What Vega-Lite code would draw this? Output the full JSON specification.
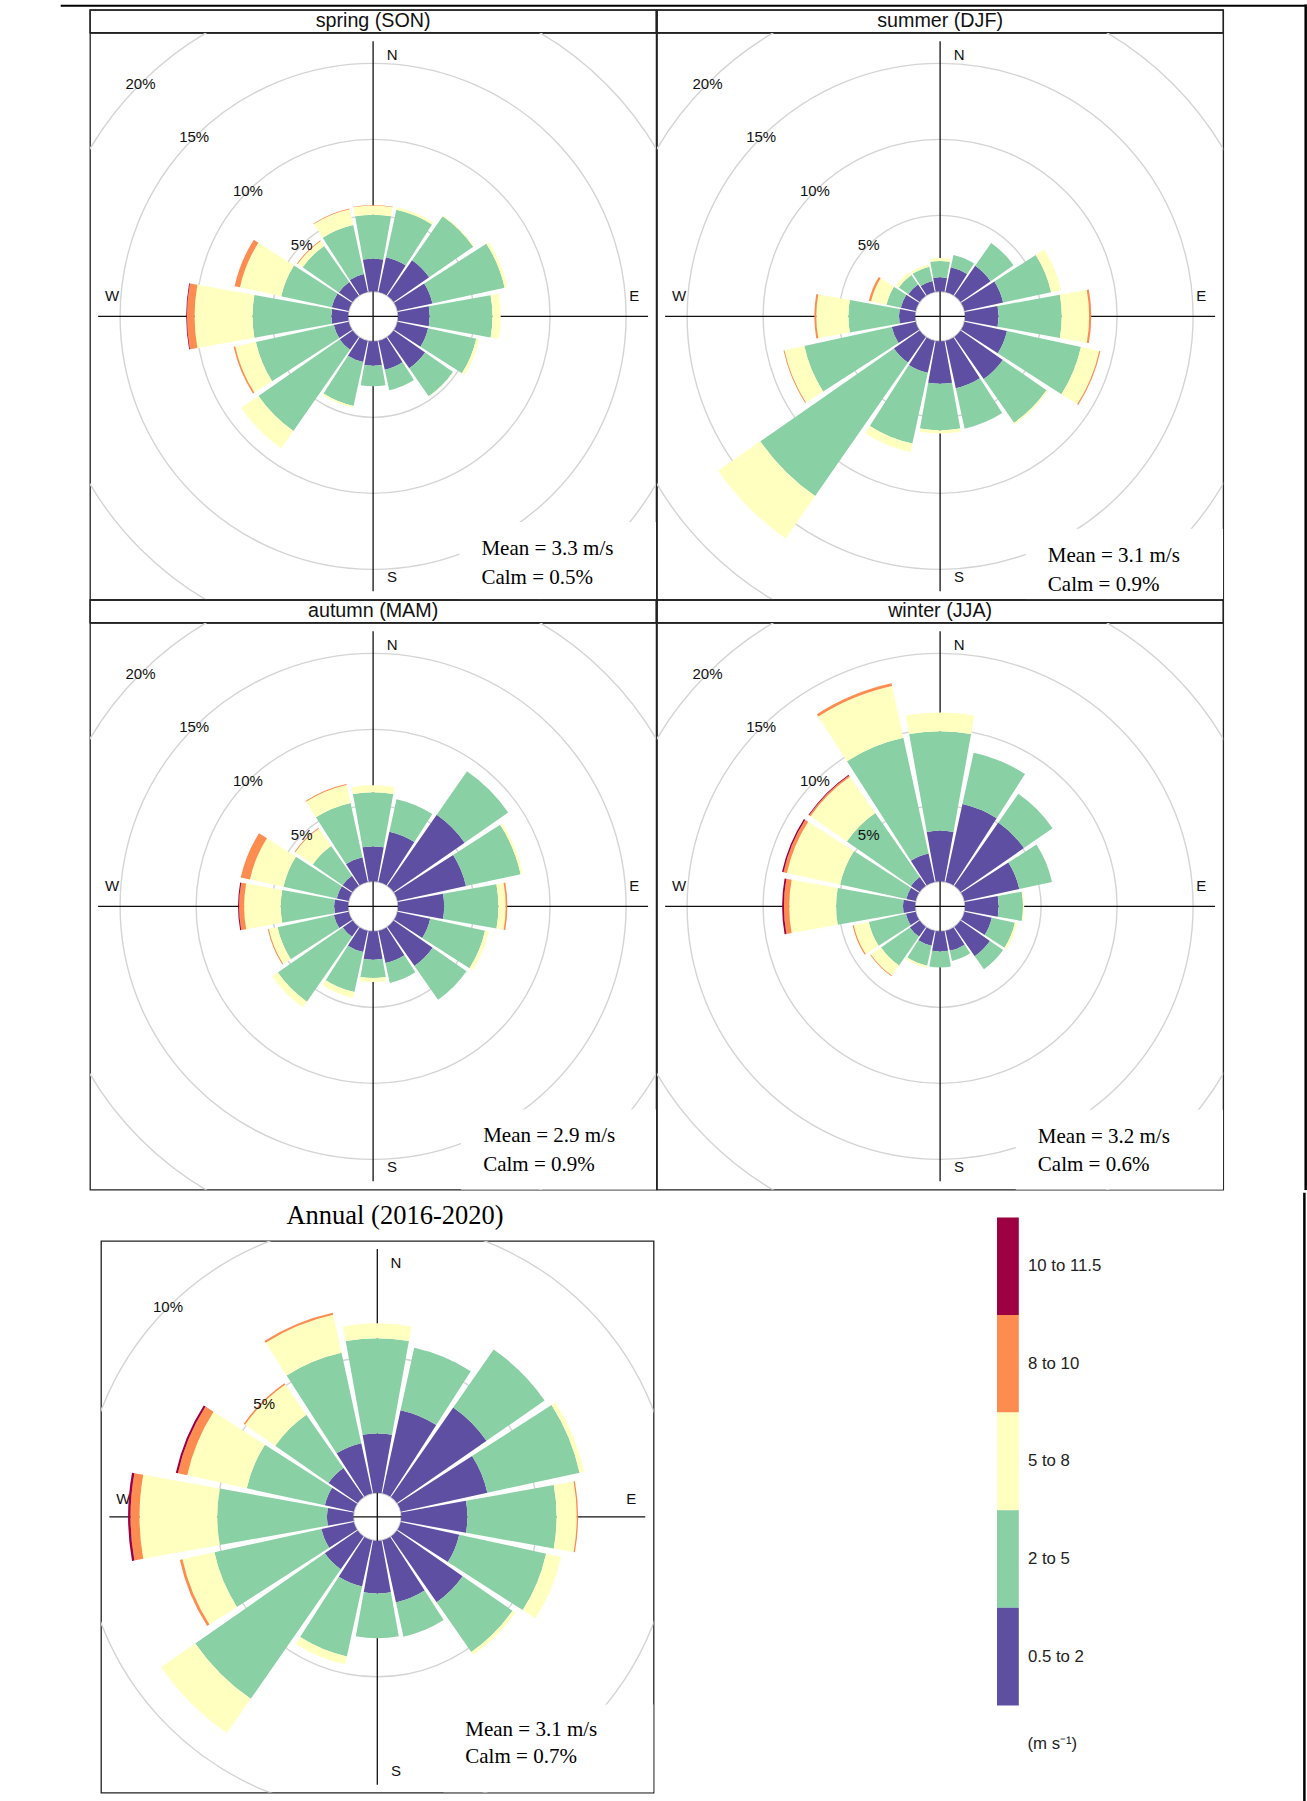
{
"$schema": "https://vega.github.io/schema/vega-lite/v6.json",
"padding": {"left": 59, "top": 3, "right": 0, "bottom": 0},
"background": "white",
"config": {"view": {"stroke": "#222", "strokeWidth": 1.3}},
"datasets": {
"rings": [{"ring":5,"lab":"5%"},{"ring":10,"lab":"10%"},{"ring":15,"lab":"15%"},{"ring":20,"lab":"20%"}],
"compass": [{"c":"N","a":0},{"c":"E","a":90},{"c":"S","a":180},{"c":"W","a":270}],
"bands": [{"w":10,"b":"10 to 11.5"},{"w":8,"b":"8 to 10"},{"w":5,"b":"5 to 8"},{"w":2,"b":"2 to 5"},{"w":0.5,"b":"0.5 to 2"}],
"unit": [{"u":"(m s⁻¹)"}],
"stats": [
{"s":"spring","t":"spring (SON)","mean":"Mean = 3.3 m/s","calm":"Calm = 0.5%"},
{"s":"summer","t":"summer (DJF)","mean":"Mean = 3.1 m/s","calm":"Calm = 0.9%"},
{"s":"autumn","t":"autumn (MAM)","mean":"Mean = 2.9 m/s","calm":"Calm = 0.9%"},
{"s":"winter","t":"winter (JJA)","mean":"Mean = 3.2 m/s","calm":"Calm = 0.6%"},
{"s":"annual","t":"Annual (2016-2020)","mean":"Mean = 3.1 m/s","calm":"Calm = 0.7%"}],
"wind": [
{"s":"spring","d":0,"w":0.5,"p":2.15},{"s":"spring","d":0,"w":2,"p":2.89},{"s":"spring","d":0,"w":5,"p":0.6},{"s":"spring","d":0,"w":8,"p":0.04},
{"s":"spring","d":22.5,"w":0.5,"p":2.33},{"s":"spring","d":22.5,"w":2,"p":3.2},{"s":"spring","d":22.5,"w":5,"p":0.17},
{"s":"spring","d":45,"w":0.5,"p":2.85},{"s":"spring","d":45,"w":2,"p":3.53},{"s":"spring","d":45,"w":5,"p":0.07},
{"s":"spring","d":67.5,"w":0.5,"p":2.35},{"s":"spring","d":67.5,"w":2,"p":4.86},{"s":"spring","d":67.5,"w":5,"p":0.19},
{"s":"spring","d":90,"w":0.5,"p":2.08},{"s":"spring","d":90,"w":2,"p":4.13},{"s":"spring","d":90,"w":5,"p":0.54},
{"s":"spring","d":112.5,"w":0.5,"p":2.06},{"s":"spring","d":112.5,"w":2,"p":3.24},{"s":"spring","d":112.5,"w":5,"p":0.2},
{"s":"spring","d":135,"w":0.5,"p":2.52},{"s":"spring","d":135,"w":2,"p":2.24},{"s":"spring","d":135,"w":5,"p":0.03},
{"s":"spring","d":157.5,"w":0.5,"p":1.95},{"s":"spring","d":157.5,"w":2,"p":1.38},
{"s":"spring","d":180,"w":0.5,"p":1.6},{"s":"spring","d":180,"w":2,"p":1.36},
{"s":"spring","d":202.5,"w":0.5,"p":1.43},{"s":"spring","d":202.5,"w":2,"p":2.96},{"s":"spring","d":202.5,"w":5,"p":0.11},
{"s":"spring","d":225,"w":0.5,"p":1.03},{"s":"spring","d":225,"w":2,"p":6.51},{"s":"spring","d":225,"w":5,"p":1.39},
{"s":"spring","d":247.5,"w":0.5,"p":1.0},{"s":"spring","d":247.5,"w":2,"p":5.25},{"s":"spring","d":247.5,"w":5,"p":1.39},{"s":"spring","d":247.5,"w":8,"p":0.11},
{"s":"spring","d":270,"w":0.5,"p":1.1},{"s":"spring","d":270,"w":2,"p":5.19},{"s":"spring","d":270,"w":5,"p":3.81},{"s":"spring","d":270,"w":8,"p":0.5},{"s":"spring","d":270,"w":10,"p":0.05},
{"s":"spring","d":292.5,"w":0.5,"p":1.14},{"s":"spring","d":292.5,"w":2,"p":3.4},{"s":"spring","d":292.5,"w":5,"p":2.78},{"s":"spring","d":292.5,"w":8,"p":0.36},
{"s":"spring","d":315,"w":0.5,"p":1.1},{"s":"spring","d":315,"w":2,"p":2.9},{"s":"spring","d":315,"w":5,"p":0.39},{"s":"spring","d":315,"w":8,"p":0.06},
{"s":"spring","d":337.5,"w":0.5,"p":1.2},{"s":"spring","d":337.5,"w":2,"p":3.3},{"s":"spring","d":337.5,"w":5,"p":1.07},{"s":"spring","d":337.5,"w":8,"p":0.05},

{"s":"summer","d":0,"w":0.5,"p":0.92},{"s":"summer","d":0,"w":2,"p":1.08},{"s":"summer","d":0,"w":5,"p":0.2},
{"s":"summer","d":22.5,"w":0.5,"p":1.66},{"s":"summer","d":22.5,"w":2,"p":0.83},
{"s":"summer","d":45,"w":0.5,"p":2.4},{"s":"summer","d":45,"w":2,"p":1.84},
{"s":"summer","d":67.5,"w":0.5,"p":2.6},{"s":"summer","d":67.5,"w":2,"p":3.23},{"s":"summer","d":67.5,"w":5,"p":0.67},
{"s":"summer","d":90,"w":0.5,"p":2.2},{"s":"summer","d":90,"w":2,"p":4.16},{"s":"summer","d":90,"w":5,"p":1.8},{"s":"summer","d":90,"w":8,"p":0.14},
{"s":"summer","d":112.5,"w":0.5,"p":2.86},{"s":"summer","d":112.5,"w":2,"p":4.98},{"s":"summer","d":112.5,"w":5,"p":1.23},{"s":"summer","d":112.5,"w":8,"p":0.08},
{"s":"summer","d":135,"w":0.5,"p":3.38},{"s":"summer","d":135,"w":2,"p":3.5},{"s":"summer","d":135,"w":5,"p":0.12},
{"s":"summer","d":157.5,"w":0.5,"p":3.2},{"s":"summer","d":157.5,"w":2,"p":2.72},
{"s":"summer","d":180,"w":0.5,"p":2.79},{"s":"summer","d":180,"w":2,"p":3.07},{"s":"summer","d":180,"w":5,"p":0.2},
{"s":"summer","d":202.5,"w":0.5,"p":2.16},{"s":"summer","d":202.5,"w":2,"p":4.76},{"s":"summer","d":202.5,"w":5,"p":0.58},
{"s":"summer","d":225,"w":0.5,"p":2.06},{"s":"summer","d":225,"w":2,"p":10.7},{"s":"summer","d":225,"w":5,"p":3.39},
{"s":"summer","d":247.5,"w":0.5,"p":1.61},{"s":"summer","d":247.5,"w":2,"p":5.89},{"s":"summer","d":247.5,"w":5,"p":1.34},{"s":"summer","d":247.5,"w":8,"p":0.06},
{"s":"summer","d":270,"w":0.5,"p":1.06},{"s":"summer","d":270,"w":2,"p":3.33},{"s":"summer","d":270,"w":5,"p":2.11},{"s":"summer","d":270,"w":8,"p":0.13},
{"s":"summer","d":292.5,"w":0.5,"p":1.0},{"s":"summer","d":292.5,"w":2,"p":0.96},{"s":"summer","d":292.5,"w":5,"p":1.04},{"s":"summer","d":292.5,"w":8,"p":0.15},
{"s":"summer","d":315,"w":0.5,"p":0.9},{"s":"summer","d":315,"w":2,"p":0.77},{"s":"summer","d":315,"w":5,"p":0.23},
{"s":"summer","d":337.5,"w":0.5,"p":0.73},{"s":"summer","d":337.5,"w":2,"p":0.97},{"s":"summer","d":337.5,"w":5,"p":0.15},

{"s":"autumn","d":0,"w":0.5,"p":2.3},{"s":"autumn","d":0,"w":2,"p":3.56},{"s":"autumn","d":0,"w":5,"p":0.46},
{"s":"autumn","d":22.5,"w":0.5,"p":3.38},{"s":"autumn","d":22.5,"w":2,"p":2.19},
{"s":"autumn","d":45,"w":0.5,"p":5.69},{"s":"autumn","d":45,"w":2,"p":3.49},
{"s":"autumn","d":67.5,"w":0.5,"p":4.61},{"s":"autumn","d":67.5,"w":2,"p":3.68},{"s":"autumn","d":67.5,"w":5,"p":0.16},
{"s":"autumn","d":90,"w":0.5,"p":3.03},{"s":"autumn","d":90,"w":2,"p":3.57},{"s":"autumn","d":90,"w":5,"p":0.48},{"s":"autumn","d":90,"w":8,"p":0.11},
{"s":"autumn","d":112.5,"w":0.5,"p":2.2},{"s":"autumn","d":112.5,"w":2,"p":3.69},{"s":"autumn","d":112.5,"w":5,"p":0.26},
{"s":"autumn","d":135,"w":0.5,"p":3.13},{"s":"autumn","d":135,"w":2,"p":2.71},
{"s":"autumn","d":157.5,"w":0.5,"p":2.17},{"s":"autumn","d":157.5,"w":2,"p":1.34},
{"s":"autumn","d":180,"w":0.5,"p":1.86},{"s":"autumn","d":180,"w":2,"p":1.21},{"s":"autumn","d":180,"w":5,"p":0.26},
{"s":"autumn","d":202.5,"w":0.5,"p":1.43},{"s":"autumn","d":202.5,"w":2,"p":2.7},{"s":"autumn","d":202.5,"w":5,"p":0.39},
{"s":"autumn","d":225,"w":0.5,"p":0.79},{"s":"autumn","d":225,"w":2,"p":5.2},{"s":"autumn","d":225,"w":5,"p":0.46},
{"s":"autumn","d":247.5,"w":0.5,"p":1.0},{"s":"autumn","d":247.5,"w":2,"p":3.79},{"s":"autumn","d":247.5,"w":5,"p":0.59},{"s":"autumn","d":247.5,"w":8,"p":0.07},
{"s":"autumn","d":270,"w":0.5,"p":0.92},{"s":"autumn","d":270,"w":2,"p":3.51},{"s":"autumn","d":270,"w":5,"p":2.41},{"s":"autumn","d":270,"w":8,"p":0.33},{"s":"autumn","d":270,"w":10,"p":0.07},
{"s":"autumn","d":292.5,"w":0.5,"p":0.8},{"s":"autumn","d":292.5,"w":2,"p":3.59},{"s":"autumn","d":292.5,"w":5,"p":2.26},{"s":"autumn","d":292.5,"w":8,"p":0.62},
{"s":"autumn","d":315,"w":0.5,"p":0.8},{"s":"autumn","d":315,"w":2,"p":2.39},{"s":"autumn","d":315,"w":5,"p":1.4},{"s":"autumn","d":315,"w":8,"p":0.06},
{"s":"autumn","d":337.5,"w":0.5,"p":1.66},{"s":"autumn","d":337.5,"w":2,"p":3.66},{"s":"autumn","d":337.5,"w":5,"p":1.21},{"s":"autumn","d":337.5,"w":8,"p":0.07},

{"s":"winter","d":0,"w":0.5,"p":3.33},{"s":"winter","d":0,"w":2,"p":6.54},{"s":"winter","d":0,"w":5,"p":1.24},
{"s":"winter","d":22.5,"w":0.5,"p":5.25},{"s":"winter","d":22.5,"w":2,"p":3.45},
{"s":"winter","d":45,"w":0.5,"p":5.07},{"s":"winter","d":45,"w":2,"p":2.3},
{"s":"winter","d":67.5,"w":0.5,"p":3.69},{"s":"winter","d":67.5,"w":2,"p":2.2},
{"s":"winter","d":90,"w":0.5,"p":2.21},{"s":"winter","d":90,"w":2,"p":1.6},{"s":"winter","d":90,"w":5,"p":0.08},
{"s":"winter","d":112.5,"w":0.5,"p":1.84},{"s":"winter","d":112.5,"w":2,"p":1.55},{"s":"winter","d":112.5,"w":5,"p":0.16},
{"s":"winter","d":135,"w":0.5,"p":2.35},{"s":"winter","d":135,"w":2,"p":1.05},
{"s":"winter","d":157.5,"w":0.5,"p":1.35},{"s":"winter","d":157.5,"w":2,"p":0.68},
{"s":"winter","d":180,"w":0.5,"p":1.32},{"s":"winter","d":180,"w":2,"p":1.05},
{"s":"winter","d":202.5,"w":0.5,"p":1.01},{"s":"winter","d":202.5,"w":2,"p":1.34},{"s":"winter","d":202.5,"w":5,"p":0.15},
{"s":"winter","d":225,"w":0.5,"p":0.78},{"s":"winter","d":225,"w":2,"p":2.31},{"s":"winter","d":225,"w":5,"p":0.81},{"s":"winter","d":225,"w":8,"p":0.05},
{"s":"winter","d":247.5,"w":0.5,"p":0.66},{"s":"winter","d":247.5,"w":2,"p":2.5},{"s":"winter","d":247.5,"w":5,"p":1.01},{"s":"winter","d":247.5,"w":8,"p":0.08},
{"s":"winter","d":270,"w":0.5,"p":0.8},{"s":"winter","d":270,"w":2,"p":4.4},{"s":"winter","d":270,"w":5,"p":3.08},{"s":"winter","d":270,"w":8,"p":0.35},{"s":"winter","d":270,"w":10,"p":0.12},
{"s":"winter","d":292.5,"w":0.5,"p":0.63},{"s":"winter","d":292.5,"w":2,"p":4.46},{"s":"winter","d":292.5,"w":5,"p":3.58},{"s":"winter","d":292.5,"w":8,"p":0.23},{"s":"winter","d":292.5,"w":10,"p":0.1},
{"s":"winter","d":315,"w":0.5,"p":0.7},{"s":"winter","d":315,"w":2,"p":5.13},{"s":"winter","d":315,"w":5,"p":2.91},{"s":"winter","d":315,"w":8,"p":0.11},{"s":"winter","d":315,"w":10,"p":0.05},
{"s":"winter","d":337.5,"w":0.5,"p":1.92},{"s":"winter","d":337.5,"w":2,"p":7.78},{"s":"winter","d":337.5,"w":5,"p":3.49},{"s":"winter","d":337.5,"w":8,"p":0.18},

{"s":"annual","d":0,"w":0.5,"p":2.18},{"s":"annual","d":0,"w":2,"p":3.5},{"s":"annual","d":0,"w":5,"p":0.55},
{"s":"annual","d":22.5,"w":0.5,"p":3.13},{"s":"annual","d":22.5,"w":2,"p":2.35},
{"s":"annual","d":45,"w":0.5,"p":4.01},{"s":"annual","d":45,"w":2,"p":2.6},
{"s":"annual","d":67.5,"w":0.5,"p":3.26},{"s":"annual","d":67.5,"w":2,"p":3.47},{"s":"annual","d":67.5,"w":5,"p":0.17},
{"s":"annual","d":90,"w":0.5,"p":2.43},{"s":"annual","d":90,"w":2,"p":3.28},{"s":"annual","d":90,"w":5,"p":0.74},{"s":"annual","d":90,"w":8,"p":0.05},
{"s":"annual","d":112.5,"w":0.5,"p":2.2},{"s":"annual","d":112.5,"w":2,"p":3.27},{"s":"annual","d":112.5,"w":5,"p":0.56},
{"s":"annual","d":135,"w":0.5,"p":2.94},{"s":"annual","d":135,"w":2,"p":2.23},{"s":"annual","d":135,"w":5,"p":0.13},
{"s":"annual","d":157.5,"w":0.5,"p":2.34},{"s":"annual","d":157.5,"w":2,"p":1.29},
{"s":"annual","d":180,"w":0.5,"p":1.94},{"s":"annual","d":180,"w":2,"p":1.64},
{"s":"annual","d":202.5,"w":0.5,"p":1.74},{"s":"annual","d":202.5,"w":2,"p":2.63},{"s":"annual","d":202.5,"w":5,"p":0.3},
{"s":"annual","d":225,"w":0.5,"p":1.47},{"s":"annual","d":225,"w":2,"p":5.8},{"s":"annual","d":225,"w":5,"p":1.53},
{"s":"annual","d":247.5,"w":0.5,"p":1.22},{"s":"annual","d":247.5,"w":2,"p":4.03},{"s":"annual","d":247.5,"w":5,"p":1.2},{"s":"annual","d":247.5,"w":8,"p":0.1},
{"s":"annual","d":270,"w":0.5,"p":0.97},{"s":"annual","d":270,"w":2,"p":4.03},{"s":"annual","d":270,"w":5,"p":2.86},{"s":"annual","d":270,"w":8,"p":0.33},{"s":"annual","d":270,"w":10,"p":0.09},
{"s":"annual","d":292.5,"w":0.5,"p":1.09},{"s":"annual","d":292.5,"w":2,"p":2.94},{"s":"annual","d":292.5,"w":5,"p":2.24},{"s":"annual","d":292.5,"w":8,"p":0.35},{"s":"annual","d":292.5,"w":10,"p":0.08},
{"s":"annual","d":315,"w":0.5,"p":1.3},{"s":"annual","d":315,"w":2,"p":2.39},{"s":"annual","d":315,"w":5,"p":1.35},{"s":"annual","d":315,"w":8,"p":0.06},
{"s":"annual","d":337.5,"w":0.5,"p":1.89},{"s":"annual","d":337.5,"w":2,"p":3.4},{"s":"annual","d":337.5,"w":5,"p":1.43},{"s":"annual","d":337.5,"w":8,"p":0.08}
]
},
"spacing": 0,
"vconcat": [
{"columns": 2, "spacing": 0, "bounds": "flush", "concat": [
 {"width": 566.2, "height": 22.7, "layer": [
  {"data": {"values": [{}]}, "mark": {"type": "rect", "fillOpacity": 0, "stroke": "#222", "strokeWidth": 1.3},
   "encoding": {"x": {"datum": 0, "type": "quantitative", "axis": null, "scale": {"domain": [0, 1], "nice": false, "zero": false}}, "x2": {"datum": 1}, "y": {"datum": 0, "type": "quantitative", "axis": null, "scale": {"domain": [0, 1], "nice": false, "zero": false}}, "y2": {"datum": 1}}},
  {"data": {"values": [{}]}, "mark": {"type": "rule", "color": "#000", "strokeWidth": 2, "strokeCap": "square"},
   "encoding": {"x": {"datum": -0.04998, "type": "quantitative", "axis": null, "scale": {"domain": [0, 1], "nice": false, "zero": false}}, "x2": {"datum": 2.1471}, "y": {"datum": 1.1894, "type": "quantitative", "axis": null, "scale": {"domain": [0, 1], "nice": false, "zero": false}}}},
  {"data": {"values": [{}]}, "mark": {"type": "rule", "color": "#000", "strokeWidth": 2.5, "strokeCap": "square"},
   "encoding": {"x": {"datum": 2.1471, "type": "quantitative", "axis": null, "scale": {"domain": [0, 1], "nice": false, "zero": false}}, "y": {"datum": 1.1894, "type": "quantitative", "axis": null, "scale": {"domain": [0, 1], "nice": false, "zero": false}}, "y2": {"datum": -50.93}}},
  {"data": {"name": "stats"}, "transform": [{"filter": "datum.s=='spring'"}], "mark": {"type": "text", "font": "Liberation Sans", "fontSize": 19.7, "color": "#111"}, "encoding": {"text": {"field": "t"}}}]},
 {"width": 566.2, "height": 22.7, "layer": [
  {"data": {"values": [{}]}, "mark": {"type": "rect", "fillOpacity": 0, "stroke": "#222", "strokeWidth": 1.3},
   "encoding": {"x": {"datum": 0, "type": "quantitative", "axis": null, "scale": {"domain": [0, 1], "nice": false, "zero": false}}, "x2": {"datum": 1}, "y": {"datum": 0, "type": "quantitative", "axis": null, "scale": {"domain": [0, 1], "nice": false, "zero": false}}, "y2": {"datum": 1}}},
  {"data": {"name": "stats"}, "transform": [{"filter": "datum.s=='summer'"}], "mark": {"type": "text", "font": "Liberation Sans", "fontSize": 19.7, "color": "#111"}, "encoding": {"text": {"field": "t"}}}]},
 {"width": 566.2, "height": 566.7, "layer": [
  {"data": {"name": "rings"}, "mark": {"type": "arc", "theta": 0, "theta2": 6.2832, "fill": "white", "fillOpacity": 0, "stroke": "#d4d4d4", "strokeWidth": 1.4, "clip": true},
   "encoding": {"radius": {"field": "ring", "type": "quantitative", "stack": null, "scale": {"type": "linear", "domain": [0, 20], "range": [25, 329], "zero": false, "nice": false}}}},
  {"data": {"values": [{}]}, "mark": {"type": "rule", "color": "#111", "strokeWidth": 1.3},
   "encoding": {"x": {"datum": 0, "type": "quantitative", "axis": null, "scale": {"domain": [-18.625, 18.625], "zero": false, "nice": false}}, "y": {"datum": -18.09, "type": "quantitative", "axis": null, "scale": {"domain": [-18.64, 18.64], "zero": false, "nice": false}}, "y2": {"datum": 18.09}}},
  {"data": {"values": [{}]}, "mark": {"type": "rule", "color": "#111", "strokeWidth": 1.3},
   "encoding": {"y": {"datum": 0, "type": "quantitative", "axis": null, "scale": {"domain": [-18.64, 18.64], "zero": false, "nice": false}}, "x": {"datum": -18.09, "type": "quantitative", "axis": null, "scale": {"domain": [-18.625, 18.625], "zero": false, "nice": false}}, "x2": {"datum": 18.09}}},
  {"data": {"name": "compass"}, "transform": [{"filter": "datum.c=='N'||datum.c=='S'"}], "mark": {"type": "text", "font": "Liberation Sans", "fontSize": 15, "color": "#111", "dx": 19},
   "encoding": {"theta": {"field": "a", "type": "quantitative", "stack": null, "scale": {"type": "linear", "domain": [0, 360], "range": [0, 6.283185307], "zero": false, "nice": false}}, "radius": {"datum": 15.53, "type": "quantitative", "scale": {"type": "linear", "domain": [0, 20], "range": [25, 329], "zero": false, "nice": false}}, "text": {"field": "c"}}},
  {"data": {"name": "compass"}, "transform": [{"filter": "datum.c=='E'||datum.c=='W'"}], "mark": {"type": "text", "font": "Liberation Sans", "fontSize": 15, "color": "#111", "dy": -20},
   "encoding": {"theta": {"field": "a", "type": "quantitative", "stack": null, "scale": {"type": "linear", "domain": [0, 360], "range": [0, 6.283185307], "zero": false, "nice": false}}, "radius": {"datum": 15.53, "type": "quantitative", "scale": {"type": "linear", "domain": [0, 20], "range": [25, 329], "zero": false, "nice": false}}, "text": {"field": "c"}}},
  {"data": {"name": "wind"}, "transform": [{"filter": "datum.s=='spring'"}, {"bin": {"step": 22.5, "extent": [-11.25, 348.75], "nice": false}, "field": "d", "as": ["a0", "a1"]}, {"stack": "p", "groupby": ["d"], "sort": [{"field": "w", "order": "ascending"}], "as": ["r0", "r1"]}],
   "mark": {"type": "arc", "thetaOffset": 0.0185, "theta2Offset": -0.0185},
   "encoding": {"theta": {"field": "a0", "type": "quantitative", "stack": null, "scale": {"type": "linear", "domain": [0, 360], "range": [0, 6.283185307], "zero": false, "nice": false}}, "theta2": {"field": "a1"},
    "radius": {"field": "r1", "type": "quantitative", "stack": null, "scale": {"type": "linear", "domain": [0, 20], "range": [25, 329], "zero": false, "nice": false}}, "radius2": {"field": "r0"},
    "color": {"field": "w", "type": "ordinal", "legend": null, "scale": {"domain": [0.5, 2, 5, 8, 10], "range": ["#5E4FA2", "#89D0A4", "#FFFFBF", "#FC8C50", "#9E0142"]}}}},
  {"data": {"name": "rings"}, "mark": {"type": "text", "font": "Liberation Sans", "fontSize": 15, "color": "#111"},
   "encoding": {"theta": {"datum": 315, "type": "quantitative", "scale": {"type": "linear", "domain": [0, 360], "range": [0, 6.283185307], "zero": false, "nice": false}}, "radius": {"field": "ring", "type": "quantitative", "stack": null, "scale": {"type": "linear", "domain": [0, 20], "range": [25, 329], "zero": false, "nice": false}}, "text": {"field": "lab"}}},
  {"data": {"values": [{}]}, "mark": {"type": "rect", "color": "white", "clip": true},
   "encoding": {"x": {"datum": 5.68, "type": "quantitative", "axis": null, "scale": {"domain": [-18.625, 18.625], "zero": false, "nice": false}}, "x2": {"datum": 18.625}, "y": {"datum": -13.53, "type": "quantitative", "axis": null, "scale": {"domain": [-18.64, 18.64], "zero": false, "nice": false}}, "y2": {"datum": -18.64}}},
  {"data": {"name": "stats"}, "transform": [{"filter": "datum.s=='spring'"}], "mark": {"type": "text", "font": "Liberation Serif", "fontSize": 21, "align": "left", "baseline": "alphabetic", "color": "#000"},
   "encoding": {"x": {"datum": 7.125, "type": "quantitative", "axis": null, "scale": {"domain": [-18.625, 18.625], "zero": false, "nice": false}}, "y": {"datum": -15.7, "type": "quantitative", "axis": null, "scale": {"domain": [-18.64, 18.64], "zero": false, "nice": false}}, "text": {"field": "mean"}}},
  {"data": {"name": "stats"}, "transform": [{"filter": "datum.s=='spring'"}], "mark": {"type": "text", "font": "Liberation Serif", "fontSize": 21, "align": "left", "baseline": "alphabetic", "color": "#000", "dy": 28.7},
   "encoding": {"x": {"datum": 7.125, "type": "quantitative", "axis": null, "scale": {"domain": [-18.625, 18.625], "zero": false, "nice": false}}, "y": {"datum": -15.7, "type": "quantitative", "axis": null, "scale": {"domain": [-18.64, 18.64], "zero": false, "nice": false}}, "text": {"field": "calm"}}}
 ]},
 {"width": 566.2, "height": 566.7, "layer": [
  {"data": {"name": "rings"}, "mark": {"type": "arc", "theta": 0, "theta2": 6.2832, "fill": "white", "fillOpacity": 0, "stroke": "#d4d4d4", "strokeWidth": 1.4, "clip": true},
   "encoding": {"radius": {"field": "ring", "type": "quantitative", "stack": null, "scale": {"type": "linear", "domain": [0, 20], "range": [25, 329], "zero": false, "nice": false}}}},
  {"data": {"values": [{}]}, "mark": {"type": "rule", "color": "#111", "strokeWidth": 1.3},
   "encoding": {"x": {"datum": 0, "type": "quantitative", "axis": null, "scale": {"domain": [-18.625, 18.625], "zero": false, "nice": false}}, "y": {"datum": -18.09, "type": "quantitative", "axis": null, "scale": {"domain": [-18.64, 18.64], "zero": false, "nice": false}}, "y2": {"datum": 18.09}}},
  {"data": {"values": [{}]}, "mark": {"type": "rule", "color": "#111", "strokeWidth": 1.3},
   "encoding": {"y": {"datum": 0, "type": "quantitative", "axis": null, "scale": {"domain": [-18.64, 18.64], "zero": false, "nice": false}}, "x": {"datum": -18.09, "type": "quantitative", "axis": null, "scale": {"domain": [-18.625, 18.625], "zero": false, "nice": false}}, "x2": {"datum": 18.09}}},
  {"data": {"name": "compass"}, "transform": [{"filter": "datum.c=='N'||datum.c=='S'"}], "mark": {"type": "text", "font": "Liberation Sans", "fontSize": 15, "color": "#111", "dx": 19},
   "encoding": {"theta": {"field": "a", "type": "quantitative", "stack": null, "scale": {"type": "linear", "domain": [0, 360], "range": [0, 6.283185307], "zero": false, "nice": false}}, "radius": {"datum": 15.53, "type": "quantitative", "scale": {"type": "linear", "domain": [0, 20], "range": [25, 329], "zero": false, "nice": false}}, "text": {"field": "c"}}},
  {"data": {"name": "compass"}, "transform": [{"filter": "datum.c=='E'||datum.c=='W'"}], "mark": {"type": "text", "font": "Liberation Sans", "fontSize": 15, "color": "#111", "dy": -20},
   "encoding": {"theta": {"field": "a", "type": "quantitative", "stack": null, "scale": {"type": "linear", "domain": [0, 360], "range": [0, 6.283185307], "zero": false, "nice": false}}, "radius": {"datum": 15.53, "type": "quantitative", "scale": {"type": "linear", "domain": [0, 20], "range": [25, 329], "zero": false, "nice": false}}, "text": {"field": "c"}}},
  {"data": {"name": "wind"}, "transform": [{"filter": "datum.s=='summer'"}, {"bin": {"step": 22.5, "extent": [-11.25, 348.75], "nice": false}, "field": "d", "as": ["a0", "a1"]}, {"stack": "p", "groupby": ["d"], "sort": [{"field": "w", "order": "ascending"}], "as": ["r0", "r1"]}],
   "mark": {"type": "arc", "thetaOffset": 0.0185, "theta2Offset": -0.0185},
   "encoding": {"theta": {"field": "a0", "type": "quantitative", "stack": null, "scale": {"type": "linear", "domain": [0, 360], "range": [0, 6.283185307], "zero": false, "nice": false}}, "theta2": {"field": "a1"},
    "radius": {"field": "r1", "type": "quantitative", "stack": null, "scale": {"type": "linear", "domain": [0, 20], "range": [25, 329], "zero": false, "nice": false}}, "radius2": {"field": "r0"},
    "color": {"field": "w", "type": "ordinal", "legend": null, "scale": {"domain": [0.5, 2, 5, 8, 10], "range": ["#5E4FA2", "#89D0A4", "#FFFFBF", "#FC8C50", "#9E0142"]}}}},
  {"data": {"name": "rings"}, "mark": {"type": "text", "font": "Liberation Sans", "fontSize": 15, "color": "#111"},
   "encoding": {"theta": {"datum": 315, "type": "quantitative", "scale": {"type": "linear", "domain": [0, 360], "range": [0, 6.283185307], "zero": false, "nice": false}}, "radius": {"field": "ring", "type": "quantitative", "stack": null, "scale": {"type": "linear", "domain": [0, 20], "range": [25, 329], "zero": false, "nice": false}}, "text": {"field": "lab"}}},
  {"data": {"values": [{}]}, "mark": {"type": "rect", "color": "white", "clip": true},
   "encoding": {"x": {"datum": 5.64, "type": "quantitative", "axis": null, "scale": {"domain": [-18.625, 18.625], "zero": false, "nice": false}}, "x2": {"datum": 18.625}, "y": {"datum": -13.98, "type": "quantitative", "axis": null, "scale": {"domain": [-18.64, 18.64], "zero": false, "nice": false}}, "y2": {"datum": -18.64}}},
  {"data": {"name": "stats"}, "transform": [{"filter": "datum.s=='summer'"}], "mark": {"type": "text", "font": "Liberation Serif", "fontSize": 21, "align": "left", "baseline": "alphabetic", "color": "#000"},
   "encoding": {"x": {"datum": 7.09, "type": "quantitative", "axis": null, "scale": {"domain": [-18.625, 18.625], "zero": false, "nice": false}}, "y": {"datum": -16.15, "type": "quantitative", "axis": null, "scale": {"domain": [-18.64, 18.64], "zero": false, "nice": false}}, "text": {"field": "mean"}}},
  {"data": {"name": "stats"}, "transform": [{"filter": "datum.s=='summer'"}], "mark": {"type": "text", "font": "Liberation Serif", "fontSize": 21, "align": "left", "baseline": "alphabetic", "color": "#000", "dy": 28.7},
   "encoding": {"x": {"datum": 7.09, "type": "quantitative", "axis": null, "scale": {"domain": [-18.625, 18.625], "zero": false, "nice": false}}, "y": {"datum": -16.15, "type": "quantitative", "axis": null, "scale": {"domain": [-18.64, 18.64], "zero": false, "nice": false}}, "text": {"field": "calm"}}}
 ]},
 {"width": 566.2, "height": 22.7, "layer": [
  {"data": {"values": [{}]}, "mark": {"type": "rect", "fillOpacity": 0, "stroke": "#222", "strokeWidth": 1.3},
   "encoding": {"x": {"datum": 0, "type": "quantitative", "axis": null, "scale": {"domain": [0, 1], "nice": false, "zero": false}}, "x2": {"datum": 1}, "y": {"datum": 0, "type": "quantitative", "axis": null, "scale": {"domain": [0, 1], "nice": false, "zero": false}}, "y2": {"datum": 1}}},
  {"data": {"name": "stats"}, "transform": [{"filter": "datum.s=='autumn'"}], "mark": {"type": "text", "font": "Liberation Sans", "fontSize": 19.7, "color": "#111"}, "encoding": {"text": {"field": "t"}}}]},
 {"width": 566.2, "height": 22.7, "layer": [
  {"data": {"values": [{}]}, "mark": {"type": "rect", "fillOpacity": 0, "stroke": "#222", "strokeWidth": 1.3},
   "encoding": {"x": {"datum": 0, "type": "quantitative", "axis": null, "scale": {"domain": [0, 1], "nice": false, "zero": false}}, "x2": {"datum": 1}, "y": {"datum": 0, "type": "quantitative", "axis": null, "scale": {"domain": [0, 1], "nice": false, "zero": false}}, "y2": {"datum": 1}}},
  {"data": {"name": "stats"}, "transform": [{"filter": "datum.s=='winter'"}], "mark": {"type": "text", "font": "Liberation Sans", "fontSize": 19.7, "color": "#111"}, "encoding": {"text": {"field": "t"}}}]},
 {"width": 566.2, "height": 566.7, "layer": [
  {"data": {"name": "rings"}, "mark": {"type": "arc", "theta": 0, "theta2": 6.2832, "fill": "white", "fillOpacity": 0, "stroke": "#d4d4d4", "strokeWidth": 1.4, "clip": true},
   "encoding": {"radius": {"field": "ring", "type": "quantitative", "stack": null, "scale": {"type": "linear", "domain": [0, 20], "range": [25, 329], "zero": false, "nice": false}}}},
  {"data": {"values": [{}]}, "mark": {"type": "rule", "color": "#111", "strokeWidth": 1.3},
   "encoding": {"x": {"datum": 0, "type": "quantitative", "axis": null, "scale": {"domain": [-18.625, 18.625], "zero": false, "nice": false}}, "y": {"datum": -18.09, "type": "quantitative", "axis": null, "scale": {"domain": [-18.64, 18.64], "zero": false, "nice": false}}, "y2": {"datum": 18.09}}},
  {"data": {"values": [{}]}, "mark": {"type": "rule", "color": "#111", "strokeWidth": 1.3},
   "encoding": {"y": {"datum": 0, "type": "quantitative", "axis": null, "scale": {"domain": [-18.64, 18.64], "zero": false, "nice": false}}, "x": {"datum": -18.09, "type": "quantitative", "axis": null, "scale": {"domain": [-18.625, 18.625], "zero": false, "nice": false}}, "x2": {"datum": 18.09}}},
  {"data": {"name": "compass"}, "transform": [{"filter": "datum.c=='N'||datum.c=='S'"}], "mark": {"type": "text", "font": "Liberation Sans", "fontSize": 15, "color": "#111", "dx": 19},
   "encoding": {"theta": {"field": "a", "type": "quantitative", "stack": null, "scale": {"type": "linear", "domain": [0, 360], "range": [0, 6.283185307], "zero": false, "nice": false}}, "radius": {"datum": 15.53, "type": "quantitative", "scale": {"type": "linear", "domain": [0, 20], "range": [25, 329], "zero": false, "nice": false}}, "text": {"field": "c"}}},
  {"data": {"name": "compass"}, "transform": [{"filter": "datum.c=='E'||datum.c=='W'"}], "mark": {"type": "text", "font": "Liberation Sans", "fontSize": 15, "color": "#111", "dy": -20},
   "encoding": {"theta": {"field": "a", "type": "quantitative", "stack": null, "scale": {"type": "linear", "domain": [0, 360], "range": [0, 6.283185307], "zero": false, "nice": false}}, "radius": {"datum": 15.53, "type": "quantitative", "scale": {"type": "linear", "domain": [0, 20], "range": [25, 329], "zero": false, "nice": false}}, "text": {"field": "c"}}},
  {"data": {"name": "wind"}, "transform": [{"filter": "datum.s=='autumn'"}, {"bin": {"step": 22.5, "extent": [-11.25, 348.75], "nice": false}, "field": "d", "as": ["a0", "a1"]}, {"stack": "p", "groupby": ["d"], "sort": [{"field": "w", "order": "ascending"}], "as": ["r0", "r1"]}],
   "mark": {"type": "arc", "thetaOffset": 0.0185, "theta2Offset": -0.0185},
   "encoding": {"theta": {"field": "a0", "type": "quantitative", "stack": null, "scale": {"type": "linear", "domain": [0, 360], "range": [0, 6.283185307], "zero": false, "nice": false}}, "theta2": {"field": "a1"},
    "radius": {"field": "r1", "type": "quantitative", "stack": null, "scale": {"type": "linear", "domain": [0, 20], "range": [25, 329], "zero": false, "nice": false}}, "radius2": {"field": "r0"},
    "color": {"field": "w", "type": "ordinal", "legend": null, "scale": {"domain": [0.5, 2, 5, 8, 10], "range": ["#5E4FA2", "#89D0A4", "#FFFFBF", "#FC8C50", "#9E0142"]}}}},
  {"data": {"name": "rings"}, "mark": {"type": "text", "font": "Liberation Sans", "fontSize": 15, "color": "#111"},
   "encoding": {"theta": {"datum": 315, "type": "quantitative", "scale": {"type": "linear", "domain": [0, 360], "range": [0, 6.283185307], "zero": false, "nice": false}}, "radius": {"field": "ring", "type": "quantitative", "stack": null, "scale": {"type": "linear", "domain": [0, 20], "range": [25, 329], "zero": false, "nice": false}}, "text": {"field": "lab"}}},
  {"data": {"values": [{}]}, "mark": {"type": "rect", "color": "white", "clip": true},
   "encoding": {"x": {"datum": 5.79, "type": "quantitative", "axis": null, "scale": {"domain": [-18.625, 18.625], "zero": false, "nice": false}}, "x2": {"datum": 18.625}, "y": {"datum": -13.36, "type": "quantitative", "axis": null, "scale": {"domain": [-18.64, 18.64], "zero": false, "nice": false}}, "y2": {"datum": -18.64}}},
  {"data": {"name": "stats"}, "transform": [{"filter": "datum.s=='autumn'"}], "mark": {"type": "text", "font": "Liberation Serif", "fontSize": 21, "align": "left", "baseline": "alphabetic", "color": "#000"},
   "encoding": {"x": {"datum": 7.24, "type": "quantitative", "axis": null, "scale": {"domain": [-18.625, 18.625], "zero": false, "nice": false}}, "y": {"datum": -15.53, "type": "quantitative", "axis": null, "scale": {"domain": [-18.64, 18.64], "zero": false, "nice": false}}, "text": {"field": "mean"}}},
  {"data": {"name": "stats"}, "transform": [{"filter": "datum.s=='autumn'"}], "mark": {"type": "text", "font": "Liberation Serif", "fontSize": 21, "align": "left", "baseline": "alphabetic", "color": "#000", "dy": 28.7},
   "encoding": {"x": {"datum": 7.24, "type": "quantitative", "axis": null, "scale": {"domain": [-18.625, 18.625], "zero": false, "nice": false}}, "y": {"datum": -15.53, "type": "quantitative", "axis": null, "scale": {"domain": [-18.64, 18.64], "zero": false, "nice": false}}, "text": {"field": "calm"}}}
 ]},
 {"width": 566.2, "height": 566.7, "layer": [
  {"data": {"name": "rings"}, "mark": {"type": "arc", "theta": 0, "theta2": 6.2832, "fill": "white", "fillOpacity": 0, "stroke": "#d4d4d4", "strokeWidth": 1.4, "clip": true},
   "encoding": {"radius": {"field": "ring", "type": "quantitative", "stack": null, "scale": {"type": "linear", "domain": [0, 20], "range": [25, 329], "zero": false, "nice": false}}}},
  {"data": {"values": [{}]}, "mark": {"type": "rule", "color": "#111", "strokeWidth": 1.3},
   "encoding": {"x": {"datum": 0, "type": "quantitative", "axis": null, "scale": {"domain": [-18.625, 18.625], "zero": false, "nice": false}}, "y": {"datum": -18.09, "type": "quantitative", "axis": null, "scale": {"domain": [-18.64, 18.64], "zero": false, "nice": false}}, "y2": {"datum": 18.09}}},
  {"data": {"values": [{}]}, "mark": {"type": "rule", "color": "#111", "strokeWidth": 1.3},
   "encoding": {"y": {"datum": 0, "type": "quantitative", "axis": null, "scale": {"domain": [-18.64, 18.64], "zero": false, "nice": false}}, "x": {"datum": -18.09, "type": "quantitative", "axis": null, "scale": {"domain": [-18.625, 18.625], "zero": false, "nice": false}}, "x2": {"datum": 18.09}}},
  {"data": {"name": "compass"}, "transform": [{"filter": "datum.c=='N'||datum.c=='S'"}], "mark": {"type": "text", "font": "Liberation Sans", "fontSize": 15, "color": "#111", "dx": 19},
   "encoding": {"theta": {"field": "a", "type": "quantitative", "stack": null, "scale": {"type": "linear", "domain": [0, 360], "range": [0, 6.283185307], "zero": false, "nice": false}}, "radius": {"datum": 15.53, "type": "quantitative", "scale": {"type": "linear", "domain": [0, 20], "range": [25, 329], "zero": false, "nice": false}}, "text": {"field": "c"}}},
  {"data": {"name": "compass"}, "transform": [{"filter": "datum.c=='E'||datum.c=='W'"}], "mark": {"type": "text", "font": "Liberation Sans", "fontSize": 15, "color": "#111", "dy": -20},
   "encoding": {"theta": {"field": "a", "type": "quantitative", "stack": null, "scale": {"type": "linear", "domain": [0, 360], "range": [0, 6.283185307], "zero": false, "nice": false}}, "radius": {"datum": 15.53, "type": "quantitative", "scale": {"type": "linear", "domain": [0, 20], "range": [25, 329], "zero": false, "nice": false}}, "text": {"field": "c"}}},
  {"data": {"name": "wind"}, "transform": [{"filter": "datum.s=='winter'"}, {"bin": {"step": 22.5, "extent": [-11.25, 348.75], "nice": false}, "field": "d", "as": ["a0", "a1"]}, {"stack": "p", "groupby": ["d"], "sort": [{"field": "w", "order": "ascending"}], "as": ["r0", "r1"]}],
   "mark": {"type": "arc", "thetaOffset": 0.0185, "theta2Offset": -0.0185},
   "encoding": {"theta": {"field": "a0", "type": "quantitative", "stack": null, "scale": {"type": "linear", "domain": [0, 360], "range": [0, 6.283185307], "zero": false, "nice": false}}, "theta2": {"field": "a1"},
    "radius": {"field": "r1", "type": "quantitative", "stack": null, "scale": {"type": "linear", "domain": [0, 20], "range": [25, 329], "zero": false, "nice": false}}, "radius2": {"field": "r0"},
    "color": {"field": "w", "type": "ordinal", "legend": null, "scale": {"domain": [0.5, 2, 5, 8, 10], "range": ["#5E4FA2", "#89D0A4", "#FFFFBF", "#FC8C50", "#9E0142"]}}}},
  {"data": {"name": "rings"}, "mark": {"type": "text", "font": "Liberation Sans", "fontSize": 15, "color": "#111"},
   "encoding": {"theta": {"datum": 315, "type": "quantitative", "scale": {"type": "linear", "domain": [0, 360], "range": [0, 6.283185307], "zero": false, "nice": false}}, "radius": {"field": "ring", "type": "quantitative", "stack": null, "scale": {"type": "linear", "domain": [0, 20], "range": [25, 329], "zero": false, "nice": false}}, "text": {"field": "lab"}}},
  {"data": {"values": [{}]}, "mark": {"type": "rect", "color": "white", "clip": true},
   "encoding": {"x": {"datum": 4.98, "type": "quantitative", "axis": null, "scale": {"domain": [-18.625, 18.625], "zero": false, "nice": false}}, "x2": {"datum": 18.625}, "y": {"datum": -13.38, "type": "quantitative", "axis": null, "scale": {"domain": [-18.64, 18.64], "zero": false, "nice": false}}, "y2": {"datum": -18.64}}},
  {"data": {"name": "stats"}, "transform": [{"filter": "datum.s=='winter'"}], "mark": {"type": "text", "font": "Liberation Serif", "fontSize": 21, "align": "left", "baseline": "alphabetic", "color": "#000"},
   "encoding": {"x": {"datum": 6.43, "type": "quantitative", "axis": null, "scale": {"domain": [-18.625, 18.625], "zero": false, "nice": false}}, "y": {"datum": -15.55, "type": "quantitative", "axis": null, "scale": {"domain": [-18.64, 18.64], "zero": false, "nice": false}}, "text": {"field": "mean"}}},
  {"data": {"name": "stats"}, "transform": [{"filter": "datum.s=='winter'"}], "mark": {"type": "text", "font": "Liberation Serif", "fontSize": 21, "align": "left", "baseline": "alphabetic", "color": "#000", "dy": 28.7},
   "encoding": {"x": {"datum": 6.43, "type": "quantitative", "axis": null, "scale": {"domain": [-18.625, 18.625], "zero": false, "nice": false}}, "y": {"datum": -15.55, "type": "quantitative", "axis": null, "scale": {"domain": [-18.64, 18.64], "zero": false, "nice": false}}, "text": {"field": "calm"}}}
 ]}
]},
{"spacing": 342, "hconcat": [
 {"columns": 2, "spacing": 0, "bounds": "flush", "concat": [
  {"width": 10.85, "height": 46.4, "data": {"values": []}, "mark": "point"},
  {"width": 552.6, "height": 46.4, "view": {"stroke": null}, "data": {"name": "stats"}, "transform": [{"filter": "datum.s=='annual'"}],
   "mark": {"type": "text", "font": "Liberation Serif", "fontSize": 26.5, "color": "#000", "baseline": "alphabetic", "dx": 17.7, "dy": 7.2}, "encoding": {"text": {"field": "t"}}},
  {"width": 10.85, "height": 551.6, "data": {"values": []}, "mark": "point"},
  {"width": 552.6, "height": 551.6, "layer": [
   {"data": {"name": "rings"}, "mark": {"type": "arc", "theta": 0, "theta2": 6.2832, "fill": "white", "fillOpacity": 0, "stroke": "#d4d4d4", "strokeWidth": 1.4, "clip": true},
    "encoding": {"radius": {"field": "ring", "type": "quantitative", "stack": null, "scale": {"type": "linear", "domain": [0, 15], "range": [24, 432], "zero": false, "nice": false}}}},
   {"data": {"values": [{}]}, "mark": {"type": "rule", "color": "#111", "strokeWidth": 1.3},
    "encoding": {"x": {"datum": 0, "type": "quantitative", "axis": null, "scale": {"domain": [-10.158, 10.158], "zero": false, "nice": false}}, "y": {"datum": -9.85, "type": "quantitative", "axis": null, "scale": {"domain": [-10.14, 10.14], "zero": false, "nice": false}}, "y2": {"datum": 9.85}}},
   {"data": {"values": [{}]}, "mark": {"type": "rule", "color": "#111", "strokeWidth": 1.3},
    "encoding": {"y": {"datum": 0, "type": "quantitative", "axis": null, "scale": {"domain": [-10.14, 10.14], "zero": false, "nice": false}}, "x": {"datum": -9.85, "type": "quantitative", "axis": null, "scale": {"domain": [-10.158, 10.158], "zero": false, "nice": false}}, "x2": {"datum": 9.85}}},
   {"data": {"name": "compass"}, "transform": [{"filter": "datum.c=='N'||datum.c=='S'"}], "mark": {"type": "text", "font": "Liberation Sans", "fontSize": 15, "color": "#111", "dx": 18.6},
    "encoding": {"theta": {"field": "a", "type": "quantitative", "stack": null, "scale": {"type": "linear", "domain": [0, 360], "range": [0, 6.283185307], "zero": false, "nice": false}}, "radius": {"datum": 8.456, "type": "quantitative", "scale": {"type": "linear", "domain": [0, 15], "range": [24, 432], "zero": false, "nice": false}}, "text": {"field": "c"}}},
   {"data": {"name": "compass"}, "transform": [{"filter": "datum.c=='E'||datum.c=='W'"}], "mark": {"type": "text", "font": "Liberation Sans", "fontSize": 15, "color": "#111", "dy": -18},
    "encoding": {"theta": {"field": "a", "type": "quantitative", "stack": null, "scale": {"type": "linear", "domain": [0, 360], "range": [0, 6.283185307], "zero": false, "nice": false}}, "radius": {"datum": 8.456, "type": "quantitative", "scale": {"type": "linear", "domain": [0, 15], "range": [24, 432], "zero": false, "nice": false}}, "text": {"field": "c"}}},
   {"data": {"name": "wind"}, "transform": [{"filter": "datum.s=='annual'"}, {"bin": {"step": 22.5, "extent": [-11.25, 348.75], "nice": false}, "field": "d", "as": ["a0", "a1"]}, {"stack": "p", "groupby": ["d"], "sort": [{"field": "w", "order": "ascending"}], "as": ["r0", "r1"]}],
    "mark": {"type": "arc", "thetaOffset": 0.0185, "theta2Offset": -0.0185},
    "encoding": {"theta": {"field": "a0", "type": "quantitative", "stack": null, "scale": {"type": "linear", "domain": [0, 360], "range": [0, 6.283185307], "zero": false, "nice": false}}, "theta2": {"field": "a1"},
     "radius": {"field": "r1", "type": "quantitative", "stack": null, "scale": {"type": "linear", "domain": [0, 15], "range": [24, 432], "zero": false, "nice": false}}, "radius2": {"field": "r0"},
     "color": {"field": "w", "type": "ordinal", "legend": null, "scale": {"domain": [0.5, 2, 5, 8, 10], "range": ["#5E4FA2", "#89D0A4", "#FFFFBF", "#FC8C50", "#9E0142"]}}}},
   {"data": {"name": "rings"}, "transform": [{"filter": "datum.ring <= 10"}], "mark": {"type": "text", "font": "Liberation Sans", "fontSize": 15, "color": "#111"},
    "encoding": {"theta": {"datum": 315, "type": "quantitative", "scale": {"type": "linear", "domain": [0, 360], "range": [0, 6.283185307], "zero": false, "nice": false}}, "radius": {"field": "ring", "type": "quantitative", "stack": null, "scale": {"type": "linear", "domain": [0, 15], "range": [24, 432], "zero": false, "nice": false}}, "text": {"field": "lab"}}},
   {"data": {"values": [{}]}, "mark": {"type": "rect", "color": "white", "clip": true},
    "encoding": {"x": {"datum": 2.43, "type": "quantitative", "axis": null, "scale": {"domain": [-10.158, 10.158], "zero": false, "nice": false}}, "x2": {"datum": 10.158}, "y": {"datum": -6.9, "type": "quantitative", "axis": null, "scale": {"domain": [-10.14, 10.14], "zero": false, "nice": false}}, "y2": {"datum": -10.14}}},
   {"data": {"name": "stats"}, "transform": [{"filter": "datum.s=='annual'"}], "mark": {"type": "text", "font": "Liberation Serif", "fontSize": 21, "align": "left", "baseline": "alphabetic", "color": "#000"},
    "encoding": {"x": {"datum": 3.235, "type": "quantitative", "axis": null, "scale": {"domain": [-10.158, 10.158], "zero": false, "nice": false}}, "y": {"datum": -8.077, "type": "quantitative", "axis": null, "scale": {"domain": [-10.14, 10.14], "zero": false, "nice": false}}, "text": {"field": "mean"}}},
   {"data": {"name": "stats"}, "transform": [{"filter": "datum.s=='annual'"}], "mark": {"type": "text", "font": "Liberation Serif", "fontSize": 21, "align": "left", "baseline": "alphabetic", "color": "#000", "dy": 26.7},
    "encoding": {"x": {"datum": 3.235, "type": "quantitative", "axis": null, "scale": {"domain": [-10.158, 10.158], "zero": false, "nice": false}}, "y": {"datum": -8.077, "type": "quantitative", "axis": null, "scale": {"domain": [-10.14, 10.14], "zero": false, "nice": false}}, "text": {"field": "calm"}}}
  ]}
 ]},
 {"width": 21.8, "height": 511.4, "view": {"stroke": null},
  "layer": [
   {"data": {"name": "bands"}, "mark": {"type": "rect"},
    "encoding": {
     "y": {"field": "b", "type": "ordinal", "sort": null, "scale": {"domain": ["10 to 11.5", "8 to 10", "5 to 8", "2 to 5", "0.5 to 2"], "range": [23.4, 511.4], "paddingInner": 0, "paddingOuter": 0},
      "axis": {"orient": "right", "domain": false, "ticks": false, "labelPadding": 8.6, "labelFontSize": 16.8, "labelFont": "Liberation Sans", "labelColor": "#222", "title": null}},
     "color": {"field": "w", "type": "ordinal", "legend": null, "scale": {"domain": [0.5, 2, 5, 8, 10], "range": ["#5E4FA2", "#89D0A4", "#FFFFBF", "#FC8C50", "#9E0142"]}}
    }},
   {"data": {"values": [{}]}, "mark": {"type": "rule", "color": "#000", "strokeWidth": 2.5, "strokeCap": "square"},
    "encoding": {"x": {"datum": 14.1, "type": "quantitative", "axis": null, "scale": {"domain": [0, 1], "nice": false, "zero": false}}, "y": {"datum": 1, "type": "quantitative", "axis": null, "scale": {"domain": [0, 1], "nice": false, "zero": false}}, "y2": {"datum": -0.1877}}},
   {"data": {"name": "unit"}, "mark": {"type": "text", "font": "Liberation Sans", "fontSize": 16.8, "color": "#222", "align": "left", "baseline": "middle"},
    "encoding": {"x": {"datum": 1.3945, "type": "quantitative", "axis": null, "scale": {"domain": [0, 1], "nice": false, "zero": false}}, "y": {"datum": -0.0763, "type": "quantitative", "axis": null, "scale": {"domain": [0, 1], "nice": false, "zero": false}}, "text": {"field": "u"}}}
  ],
  "resolve": {"scale": {"y": "independent"}, "axis": {"y": "independent"}}
 }
]}
]
}
